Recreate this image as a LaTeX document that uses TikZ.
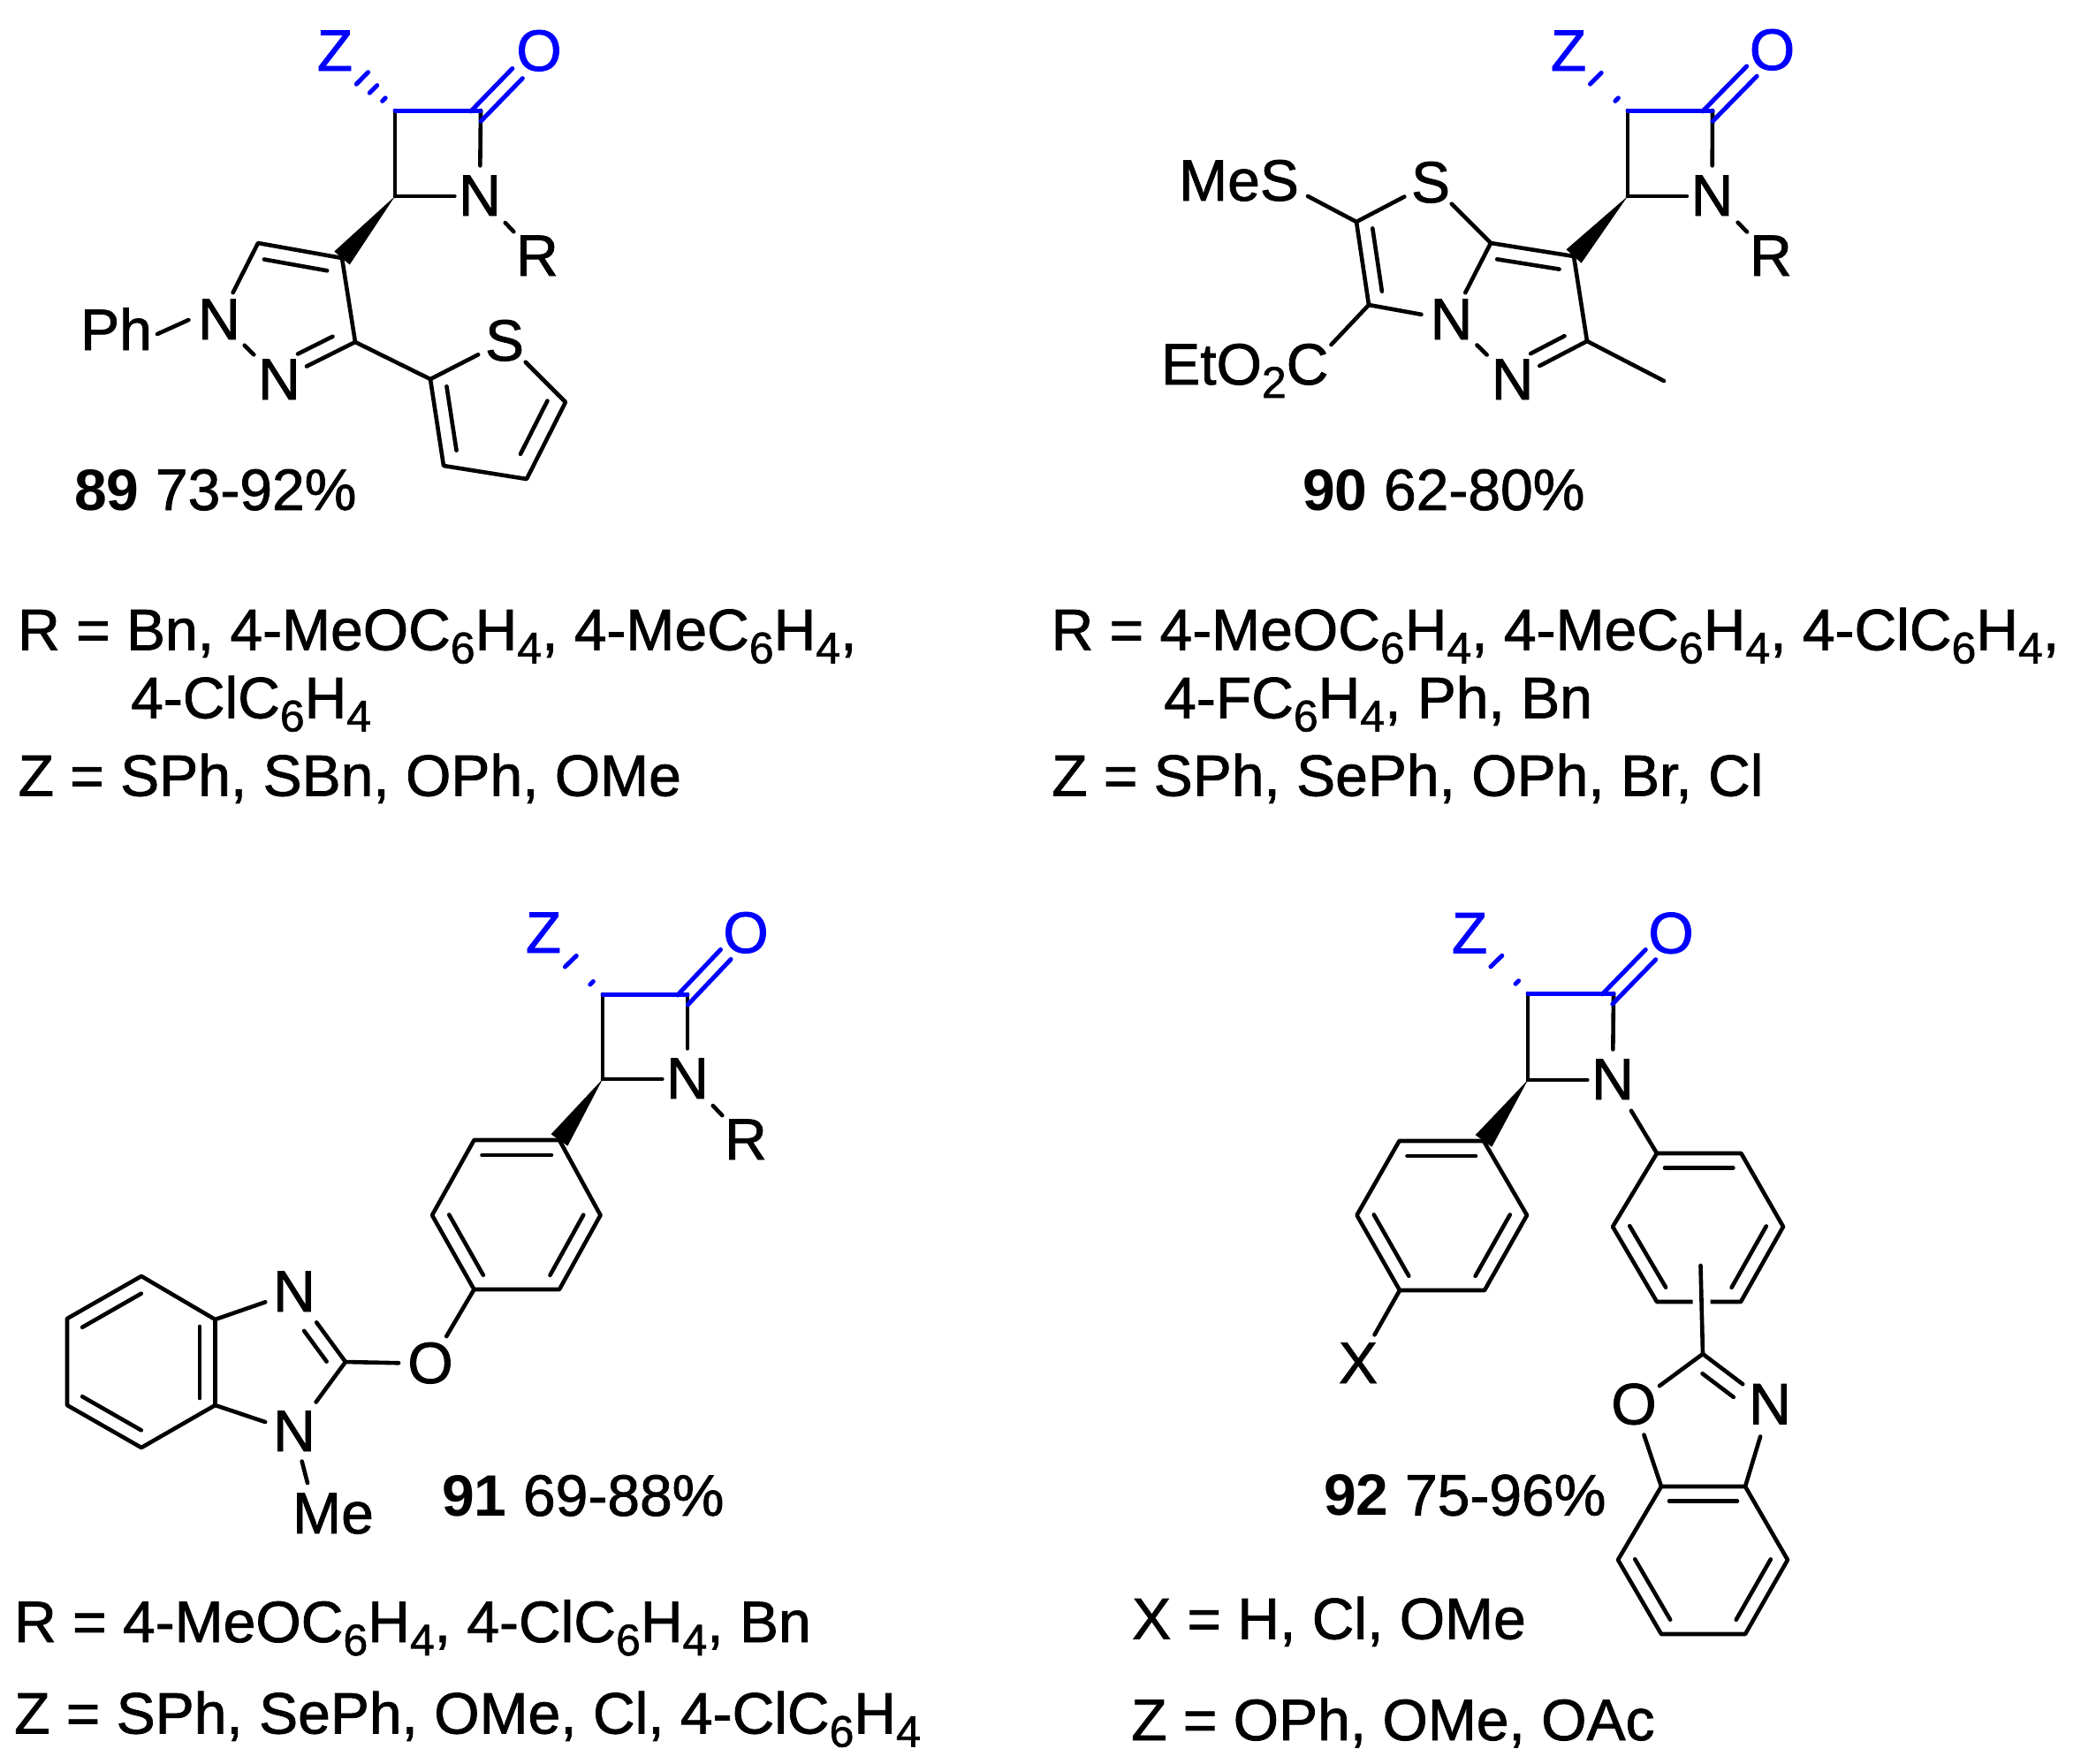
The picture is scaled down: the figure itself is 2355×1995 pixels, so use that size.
\documentclass[tikz,border=0pt]{standalone}
\usepackage{fontspec}
\setmainfont{Liberation Sans}[FakeBold=1.2,BoldFeatures={FakeBold=0}]
\usetikzlibrary{calc}
\definecolor{zblue}{RGB}{0,0,255}
\newcommand{\atomf}{\fontsize{66}{72}\selectfont}
\newcommand{\textf}{\fontsize{66}{72}\selectfont}
\newcommand{\sbs}[1]{\raisebox{-15pt}{\fontsize{50}{50}\selectfont #1}}
% offset line parallel to a->b ; positive offset = left of the direction of travel
\newcommand{\paral}[6][]{\draw[bond,#1] ($ ($(#2)!#5pt!(#3)$) !#4pt!90:(#3) $) -- ($ ($(#3)!#6pt!(#2)$) !#4pt!-90:(#2) $);}
\newcommand{\solidw}[3]{\fill (#1) -- ($(#2)!#3pt!90:(#1)$) -- ($(#2)!#3pt!-90:(#1)$) -- cycle;}
\newcommand{\hashs}[4]{\draw[bluebond] ($ ($(#1)!#3!(#2)$) !#4pt!90:(#2) $) -- ($ ($(#1)!#3!(#2)$) !#4pt!-90:(#2) $);}
\tikzset{
  bond/.style={line width=4.6pt,line cap=round,line join=round},
  bluebond/.style={bond,draw=zblue,line width=5pt},
  atom/.style={circle,inner sep=0pt,font=\atomf,text height=47pt,text depth=3pt},
  batom/.style={atom,text=zblue},
  lbl/.style={anchor=base west,inner sep=0pt,font=\atomf},
  txt/.style={anchor=base west,inner sep=0pt,font=\textf}
}
\begin{document}
\begin{tikzpicture}[x=1pt,y=-1pt]
\path[fill=white,use as bounding box] (0,0) rectangle (2355,1995);

%% ---------- 89 ----------
\coordinate (a3) at (447,125);
\coordinate (a2) at (544,125);
\coordinate (a4) at (447,222);
\coordinate (aCa) at (538.5,131.5);
\node[atom] (aN) at (543,222) {N};
\node[batom] (aO) at (610,58) {O};
\node[batom] (aZ) at (379,58) {Z};
\node[atom] (aR) at (608,290) {R};
\coordinate (ap5) at (292,275);
\coordinate (ap4) at (387,292);
\coordinate (ap3) at (402,387);
\node[atom] (aN1) at (248,362) {N};
\node[atom] (aN2) at (316,430) {N};
\node[lbl] (aPh) at (91,396) {Ph};
\coordinate (aPhb) at (178,378);
\coordinate (at2) at (487,429);
\node[atom] (aS) at (571,386) {S};
\coordinate (at5) at (640,455);
\coordinate (at4) at (596,542);
\coordinate (at3) at (502,527);
\draw[bond] (a3) -- (a4);
\draw[bond,shorten >=-6pt] (a4) -- (aN);
\draw[bond] (a2) -- (aN);
\draw[bond,shorten <=7pt,shorten >=4pt] (aN) -- (aR);
\draw[bluebond] (a3) -- (a2);
\paral[draw=zblue,line width=5pt]{aCa}{aO}{8}{0}{35}
\paral[draw=zblue,line width=5pt]{aCa}{aO}{-8}{0}{35}
\hashs{a3}{aZ}{.185}{2.5}
\hashs{a3}{aZ}{.36}{6}
\hashs{a3}{aZ}{.545}{9.5}
\solidw{a4}{ap4}{11.5}
\draw[bond] (aN1) -- (ap5) -- (ap4) -- (ap3);
\draw[bond] (ap3) -- (aN2);
\draw[bond,shorten <=6pt,shorten >=6pt] (aN1) -- (aN2);
\paral{ap4}{ap5}{17}{14}{10}
\paral{ap3}{aN2}{-17}{20}{32}
\draw[bond] (aPhb) -- (aN1.west);
\draw[bond] (ap3) -- (at2);
\draw[bond] (at2) -- (aS);
\draw[bond] (aS) -- (at5) -- (at4) -- (at3) -- (at2);
\paral{at3}{at2}{-17}{15}{11}
\paral{at5}{at4}{-19}{8}{22}
\node[lbl] (l89) at (84,577) {\textbf{89} 73-92\%};
\node[txt] (t89a) at (20,735.5) {R = Bn, 4-MeOC\sbs{6}H\sbs{4}, 4-MeC\sbs{6}H\sbs{4},};
\node[txt] (t89b) at (148,812.5) {4-ClC\sbs{6}H\sbs{4}};
\node[txt] (t89c) at (20.5,900.5) {Z = SPh, SBn, OPh, OMe};

%% ---------- 90 ----------
\coordinate (b3) at (1842,125);
\coordinate (b2) at (1938,125);
\coordinate (b4) at (1842,222);
\coordinate (bCa) at (1932.5,131.5);
\node[atom] (bN) at (1937.5,222) {N};
\node[batom] (bO) at (2005.5,57) {O};
\node[batom] (bZ) at (1775,58) {Z};
\node[atom] (bR) at (2004,290) {R};
\coordinate (bw) at (1781,290);
\coordinate (bc7a) at (1687,275);
\node[atom] (bS) at (1619,207) {S};
\node[atom] (bN4) at (1642.5,362) {N};
\node[atom] (bN5) at (1711.6,430) {N};
\coordinate (bc) at (1796,386);
\coordinate (bMe) at (1883,431);
\coordinate (bcl1) at (1535,251);
\coordinate (bcl2) at (1549,345);
\node[lbl] (bMeS) at (1334,227) {MeS};
\coordinate (bMeSb) at (1480,222);
\node[lbl] (bEt) at (1314,435) {EtO\sbs{2}C};
\coordinate (bEtb) at (1506.5,390);
\draw[bond] (b3) -- (b4);
\draw[bond,shorten >=-6pt] (b4) -- (bN);
\draw[bond] (b2) -- (bN);
\draw[bond,shorten <=7pt,shorten >=4pt] (bN) -- (bR);
\draw[bluebond] (b3) -- (b2);
\paral[draw=zblue,line width=5pt]{bCa}{bO}{8}{0}{33}
\paral[draw=zblue,line width=5pt]{bCa}{bO}{-8}{0}{33}
\hashs{b3}{bZ}{.185}{2.5}
\hashs{b3}{bZ}{.54}{9}
\solidw{b4}{bw}{11.5}
\draw[bond] (bS) -- (bc7a) -- (bw) -- (bc);
\draw[bond] (bc7a) -- (bN4);
\draw[bond,shorten <=6pt,shorten >=6pt] (bN4) -- (bN5);
\draw[bond] (bc) -- (bN5);
\draw[bond] (bc) -- (bMe);
\paral{bw}{bc7a}{17}{14}{10}
\paral{bc}{bN5}{-17}{20}{32}
\draw[bond] (bS) -- (bcl1) -- (bcl2) -- (bN4);
\paral{bcl2}{bcl1}{-17}{13}{10}
\draw[bond] (bMeSb) -- (bcl1);
\draw[bond] (bEtb) -- (bcl2);
\node[lbl] (l90) at (1474,577) {\textbf{90} 62-80\%};
\node[txt] (t90a) at (1189.5,735.5) {R = 4-MeOC\sbs{6}H\sbs{4}, 4-MeC\sbs{6}H\sbs{4}, 4-ClC\sbs{6}H\sbs{4},};
\node[txt] (t90b) at (1317,812.5) {4-FC\sbs{6}H\sbs{4}, Ph, Bn};
\node[txt] (t90c) at (1190,900.5) {Z = SPh, SePh, OPh, Br, Cl};

%% ---------- 91 ----------
\coordinate (c3) at (682,1125);
\coordinate (c2) at (778,1125);
\coordinate (c4) at (682,1221);
\coordinate (cCa) at (772.5,1131.5);
\node[atom] (cN) at (778,1221) {N};
\node[batom] (cO) at (844,1056) {O};
\node[batom] (cZ) at (615,1056) {Z};
\node[atom] (cR) at (844,1290) {R};
\coordinate (cr1) at (633,1290);
\coordinate (cr2) at (536.5,1290);
\coordinate (cr3) at (489,1375);
\coordinate (cr4) at (536.5,1459);
\coordinate (cr5) at (633,1459);
\coordinate (cr6) at (679.5,1375);
\node[atom] (cOx) at (487,1543) {O};
\coordinate (cc2) at (391,1541);
\node[atom] (cN3) at (333,1462) {N};
\node[atom] (cN1) at (333,1620) {N};
\coordinate (cc3a) at (243.5,1493);
\coordinate (cc7a) at (243.5,1590);
\coordinate (cb1) at (160,1444);
\coordinate (cb2) at (76,1492);
\coordinate (cb3) at (76,1590);
\coordinate (cb4) at (160,1638);
\node[lbl] (cMe) at (331,1735) {Me};
\coordinate (cMeb) at (348,1678);
\draw[bond] (c3) -- (c4);
\draw[bond,shorten >=-6pt] (c4) -- (cN);
\draw[bond] (c2) -- (cN);
\draw[bond,shorten <=7pt,shorten >=4pt] (cN) -- (cR);
\draw[bluebond] (c3) -- (c2);
\paral[draw=zblue,line width=5pt]{cCa}{cO}{8}{0}{33}
\paral[draw=zblue,line width=5pt]{cCa}{cO}{-8}{0}{33}
\hashs{c3}{cZ}{.185}{2.5}
\hashs{c3}{cZ}{.54}{9}
\solidw{c4}{cr1}{11.5}
\draw[bond] (cr1) -- (cr2) -- (cr3) -- (cr4) -- (cr5) -- (cr6) -- cycle;
\paral{cr1}{cr2}{17}{9}{9}
\paral{cr3}{cr4}{17}{9}{9}
\paral{cr5}{cr6}{17}{9}{9}
\draw[bond] (cr4) -- (cOx);
\draw[bond] (cOx) -- (cc2);
\draw[bond,shorten >=8pt] (cc2) -- (cN3);
\paral{cc2}{cN3}{17}{13}{42}
\draw[bond,shorten >=7pt] (cc2) -- (cN1);
\draw[bond] (cN3) -- (cc3a);
\draw[bond] (cN1) -- (cc7a);
\draw[bond] (cc3a) -- (cb1) -- (cb2) -- (cb3) -- (cb4) -- (cc7a) -- cycle;
\paral{cb1}{cb2}{17}{10}{10}
\paral{cb3}{cb4}{17}{10}{10}
\paral{cc7a}{cc3a}{17.5}{8}{8}
\draw[bond] (cN1) -- (cMeb);
\node[lbl] (l91) at (500,1715) {\textbf{91} 69-88\%};
\node[txt] (t91a) at (16,1858) {R = 4-MeOC\sbs{6}H\sbs{4}, 4-ClC\sbs{6}H\sbs{4}, Bn};
\node[txt] (t91b) at (16,1961.5) {Z = SPh, SePh, OMe, Cl, 4-ClC\sbs{6}H\sbs{4}};

%% ---------- 92 ----------
\coordinate (d3) at (1729,1124);
\coordinate (d2) at (1826,1124);
\coordinate (d4) at (1729,1222);
\coordinate (dCa) at (1819,1130.5);
\node[atom] (dN) at (1825,1222) {N};
\node[batom] (dO) at (1891,1056.5) {O};
\node[batom] (dZ) at (1663,1056.5) {Z};
\coordinate (e1) at (1679,1291);
\coordinate (e2) at (1583.5,1291);
\coordinate (e3) at (1535.5,1375);
\coordinate (e4) at (1584,1460);
\coordinate (e5) at (1680,1460);
\coordinate (e6) at (1728,1375);
\node[atom] (dX) at (1537,1543) {X};
\coordinate (f1) at (1875,1305);
\coordinate (f2) at (1970.4,1305);
\coordinate (f3) at (2018,1388);
\coordinate (f4) at (1970,1473);
\coordinate (f5) at (1875,1473);
\coordinate (f6) at (1825,1388);
\coordinate (ftop) at (1924.5,1432);
\coordinate (g2) at (1927,1532);
\node[atom] (gO) at (1849,1589.5) {O};
\node[atom] (gN) at (2003,1589.5) {N};
\coordinate (g7a) at (1880,1682);
\coordinate (g3a) at (1975,1682);
\coordinate (h1) at (1831,1765);
\coordinate (h2) at (1880,1849);
\coordinate (h3) at (1975,1849);
\coordinate (h4) at (2023,1765);
\draw[bond] (d3) -- (d4);
\draw[bond,shorten >=-6pt] (d4) -- (dN);
\draw[bond] (d2) -- (dN);
\draw[bluebond] (d3) -- (d2);
\paral[draw=zblue,line width=5pt]{dCa}{dO}{8}{0}{33}
\paral[draw=zblue,line width=5pt]{dCa}{dO}{-8}{0}{33}
\hashs{d3}{dZ}{.185}{2.5}
\hashs{d3}{dZ}{.54}{9}
\solidw{d4}{e1}{11.5}
\draw[bond] (e1) -- (e2) -- (e3) -- (e4) -- (e5) -- (e6) -- cycle;
\paral{e1}{e2}{17}{9}{9}
\paral{e3}{e4}{17}{9}{9}
\paral{e5}{e6}{17}{9}{9}
\draw[bond,shorten >=4pt] (e4) -- (dX);
\draw[bond,shorten <=6pt] (dN) -- (f1);
\draw[bond] (f1) -- (f2) -- (f3) -- (f4) -- (f5) -- (f6) -- cycle;
\paral{f2}{f1}{16.5}{9}{9}
\paral{f6}{f5}{17}{9}{9}
\paral{f4}{f3}{17}{9}{9}
\draw[line width=20pt,white] (ftop) -- (g2);
\draw[bond] (ftop) -- (g2);
\draw[bond] (g2) -- (gO);
\draw[bond,shorten >=4pt] (g2) -- (gN);
\paral{gN}{g2}{18}{38}{13}
\draw[bond] (gO) -- (g7a);
\draw[bond,shorten <=3pt] (gN) -- (g3a);
\draw[bond] (g7a) -- (h1) -- (h2) -- (h3) -- (h4) -- (g3a) -- cycle;
\paral{g3a}{g7a}{16.5}{9}{9}
\paral{h1}{h2}{17}{9}{9}
\paral{h3}{h4}{17}{9}{9}
\node[lbl] (l92) at (1498,1714.6) {\textbf{92} 75-96\%};
\node[txt] (t92a) at (1281,1854.5) {X = H, Cl, OMe};
\node[txt] (t92b) at (1280,1969) {Z = OPh, OMe, OAc};
\end{tikzpicture}
\end{document}
